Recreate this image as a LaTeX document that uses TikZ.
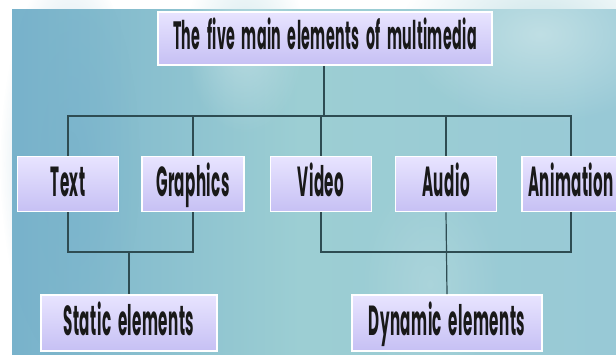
\documentclass[tikz,border=0pt]{standalone}
\usepackage{fontspec}
\newfontfamily\boxfont[FakeStretch=0.36, WordSpace=1.9, LetterSpace=1]{Poppins}
\usetikzlibrary{fadings}
\tikzfading[name=softspot, inner color=transparent!0, outer color=transparent!100]
\definecolor{bgblue}{HTML}{78B2CB}
\definecolor{bgteal}{HTML}{9CCED3}
\definecolor{bgright}{HTML}{98C9D6}
\definecolor{bglight}{HTML}{C4E1E6}
\definecolor{boxtop}{HTML}{E8E4FF}
\definecolor{boxbot}{HTML}{C6C0F4}
\definecolor{linecol}{HTML}{2E4C52}
\tikzset{
  mbox/.style={rectangle, top color=boxtop, bottom color=boxbot, draw=white, line width=1.6pt,
    minimum height=55pt, inner sep=0pt, text height=25pt, text depth=0pt, text=black!90,
    font=\boxfont\bfseries\fontsize{42}{42}\selectfont},
  conn/.style={draw=linecol, line width=1.2pt}
}
\begin{document}
\begin{tikzpicture}[x=1pt,y=1pt]
\useasboundingbox (0,0) rectangle (616,354);
\begin{scope}
\clip (0,0) rectangle (616,354);
\fill[white] (0,0) rectangle (616,354);
% background
\shade[left color=bgblue, right color=bgteal] (12,0) rectangle (300,344);
\shade[left color=bgteal, right color=bgright] (300,0) rectangle (616,344);
\fill[bglight, path fading=softspot, opacity=0.9] (540,320) ellipse (140 and 90);
\fill[bglight, path fading=softspot, opacity=0.7] (245,310) ellipse (60 and 90);
\fill[bglight, path fading=softspot, opacity=0.4] (430,70) ellipse (70 and 110);
\fill[bgblue, path fading=softspot, opacity=0.6] (70,190) ellipse (70 and 200);

% nodes
\node[mbox, minimum width=334pt, minimum height=53pt, text height=22pt,
      font=\boxfont\bfseries\fontsize{39.5}{39.5}\selectfont] (title) at (325,315.5) {The five main elements of multimedia};
\node[mbox, minimum width=101pt] (text) at (68,170) {Text};
\node[mbox, minimum width=102pt] (graphics) at (193,170) {Graphics};
\node[mbox, minimum width=101pt] (video) at (321,170) {Video};
\node[mbox, minimum width=101pt] (audio) at (446,170) {Audio};
\node[mbox, minimum width=98pt] (anim) at (571,170) {Animation};
\node[mbox, minimum width=176pt, minimum height=56pt] (static) at (129,31) {Static elements};
\node[mbox, minimum width=190pt, minimum height=56pt] (dynamic) at (447,31) {Dynamic elements};

% connectors
\coordinate (bus) at (324,238);
\coordinate (lbus) at (0,102);
\draw[conn] (title.south -| bus) -- (bus);
\draw[conn] (text.north) -- (text.north |- bus) -- (anim.north |- bus) -- (anim.north);
\draw[conn] (graphics.north) -- (graphics.north |- bus);
\draw[conn] (video.north) -- (video.north |- bus);
\draw[conn] (audio.north) -- (audio.north |- bus);
\draw[conn] (text.south) -- (text.south |- lbus) -- (graphics.south |- lbus) -- (graphics.south);
\draw[conn] (static.north |- lbus) -- (static.north);
\draw[conn] (video.south) -- (video.south |- lbus) -- (anim.south |- lbus) -- (anim.south);
\draw[conn] (audio.south) -- (dynamic.north);
\end{scope}
\end{tikzpicture}
\end{document}
